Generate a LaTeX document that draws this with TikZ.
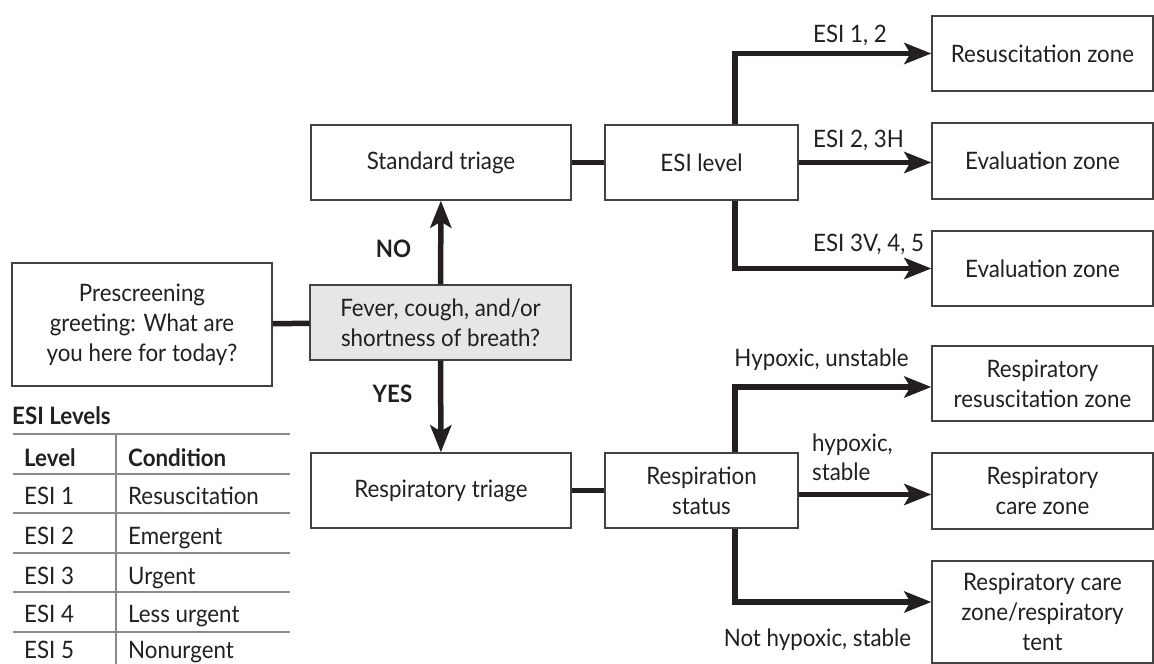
\documentclass[tikz,border=0pt]{standalone}
\usepackage{fontspec}
\setmainfont{Lato}[FakeStretch=0.93]
\usetikzlibrary{arrows.meta,calc}
\definecolor{ink}{HTML}{231F20}
\definecolor{feverfill}{HTML}{E6E6E6}
\definecolor{rule}{HTML}{8A8A8A}
\newcommand{\mainsz}{\fontsize{24}{30}\selectfont}
\tikzset{
  box/.style={draw=ink!85, line width=1.3pt, align=center, inner sep=0pt, text=ink, font=\mainsz},
  conn/.style={line width=5.5pt, draw=ink},
  arr/.style={conn, -{Stealth[length=27pt,width=21pt,inset=6pt]}},
  lbl/.style={text=ink, font=\mainsz, inner sep=0pt},
  blbl/.style={text=ink, font=\mainsz\bfseries, inner sep=0pt},
  tline/.style={draw=rule, line width=1.2pt},
}
\begin{document}
\begin{tikzpicture}[x=1pt,y=-1pt]
\useasboundingbox (0,0) rectangle (1154,664);
% nodes
\node[box, minimum width=260, minimum height=123] (pre) at (142,324.5) {Prescreening\\greeting: What are\\you here for today?};
\node[box, fill=feverfill, minimum width=261, minimum height=75] (fever) at (440.5,322.5) {Fever, cough, and/or\\shortness of breath?};
\node[box, minimum width=260, minimum height=75] (std) at (441,162.5) {Standard triage};
\node[box, minimum width=193, minimum height=75] (esi) at (701.5,162.5) {ESI level};
\node[box, minimum width=221, minimum height=75] (resz) at (1042.5,53.5) {Resuscitation zone};
\node[box, minimum width=221, minimum height=76] (ev1) at (1042.5,161) {Evaluation zone};
\node[box, minimum width=221, minimum height=75] (ev2) at (1042.5,268.5) {Evaluation zone};
\node[box, minimum width=260, minimum height=75] (rtri) at (441,490.5) {Respiratory triage};
\node[box, minimum width=193, minimum height=75] (rstat) at (701.5,490.5) {Respiration\\status};
\node[box, minimum width=221, minimum height=75] (rr) at (1042.5,383.5) {Respiratory\\resuscitation zone};
\node[box, minimum width=221, minimum height=76] (rc) at (1042.5,491) {Respiratory\\care zone};
\node[box, minimum width=221, minimum height=102] (rt) at (1042.5,612) {Respiratory care\\zone/respiratory\\tent};
% connectors
\draw[conn] (pre) -- (fever);
\draw[arr] (fever) -- (std);
\draw[arr] (fever) -- (rtri);
\draw[conn] (std) -- (esi);
\draw[conn] (rtri) -- (rstat);
\draw[arr] ([xshift=33.5pt]esi.north) |- (resz.west);
\draw[arr] (esi.east) -- (esi.east -| ev1.west);
\draw[arr] ([xshift=33.5pt]esi.south) |- (ev2.west);
\draw[arr] ([xshift=33.5pt]rstat.north) |- ([yshift=-3.5pt]rr.west);
\draw[arr] ([yshift=-4pt]rstat.east) -- ([yshift=-4pt]rstat.east -| rc.west);
\draw[arr] ([xshift=33.5pt]rstat.south) |- ([yshift=10pt]rt.west);
% labels
\node[blbl, anchor=base] (no) at (393.5,257) {NO};
\node[blbl, anchor=base] (yes) at (392.5,402) {YES};
\node[lbl, anchor=base west] (l1) at (813,42) {ESI 1, 2};
\node[lbl, anchor=base west] (l2) at (813,147) {ESI 2, 3H};
\node[lbl, anchor=base west] (l3) at (813,251) {ESI 3V, 4, 5};
\node[lbl, anchor=base] (l4) at (821.5,366) {Hypoxic, unstable};
\node[lbl, anchor=base west] (l5a) at (812,451) {hypoxic,};
\node[lbl, anchor=base west] (l5b) at (812,480) {stable};
\node[lbl, anchor=base] (l6) at (817.5,646) {Not hypoxic, stable};
% table
\node[blbl, anchor=base west] (tt) at (12,424.5) {ESI Levels};
\draw[tline] (13,434) -- (290,434);
\foreach \yy in {474,513,553,592,632} \draw[tline] (13,\yy) -- (290,\yy);
\draw[tline] (116,434) -- (116,664);
\node[blbl, anchor=base west] (h1) at (24,466) {Level};
\node[blbl, anchor=base west] (h2) at (128,466) {Condition};
\node[lbl, anchor=base west] (a1) at (24,504) {ESI 1};
\node[lbl, anchor=base west] (b1) at (128,504) {Resuscitation};
\node[lbl, anchor=base west] (a2) at (24,544) {ESI 2};
\node[lbl, anchor=base west] (b2) at (128,544) {Emergent};
\node[lbl, anchor=base west] (a3) at (24,584) {ESI 3};
\node[lbl, anchor=base west] (b3) at (128,584) {Urgent};
\node[lbl, anchor=base west] (a4) at (24,622) {ESI 4};
\node[lbl, anchor=base west] (b4) at (128,622) {Less urgent};
\node[lbl, anchor=base west] (a5) at (24,658) {ESI 5};
\node[lbl, anchor=base west] (b5) at (128,658) {Nonurgent};
\end{tikzpicture}
\end{document}
